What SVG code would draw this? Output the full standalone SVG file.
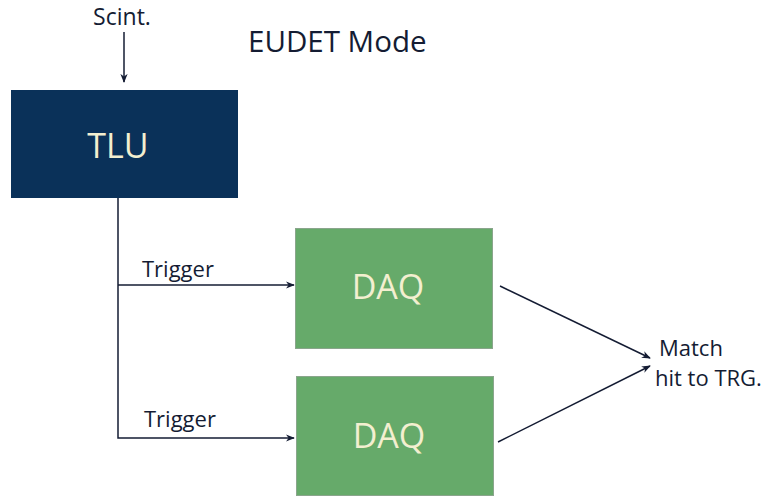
<svg xmlns="http://www.w3.org/2000/svg" width="765" height="497" viewBox="0 0 765 497">
  <style>
    text { font-family: "Open Sans", "Noto Sans", sans-serif; }
    .lbl { fill: #141c33; font-size: 22px; }
    .title { fill: #141c33; font-size: 29.5px; }
    .box-text { fill: #f3efd0; font-size: 34px; text-anchor: middle; }
    .wire { fill: none; stroke: #141c33; stroke-width: 1.5; }
    .daq { fill: #66aa6a; stroke: #8aa58c; stroke-width: 1; }
  </style>
  <defs>
    <marker id="arrow" viewBox="0 0 10 10" refX="9" refY="5" markerWidth="9" markerHeight="9" markerUnits="userSpaceOnUse" orient="auto">
      <path d="M0,1 L10,5 L0,9 L3,5 Z" fill="#141c33"/>
    </marker>
  </defs>
  <rect width="765" height="497" fill="#ffffff"/>

  <text class="title" x="248" y="52">EUDET Mode</text>

  <g id="tlu">
    <rect x="11" y="90" width="227" height="108" fill="#0a3159"/>
    <text class="box-text" x="118" y="158">TLU</text>
  </g>

  <g id="daq1">
    <rect class="daq" x="295.5" y="228.5" width="197" height="120"/>
    <text class="box-text" x="388" y="299">DAQ</text>
  </g>

  <g id="daq2">
    <rect class="daq" x="296.5" y="376.5" width="197" height="119"/>
    <text class="box-text" x="389" y="448">DAQ</text>
  </g>

  <g id="scint">
    <text class="lbl" x="122" y="25" text-anchor="middle" style="font-size:23px">Scint.</text>
  </g>

  <g id="match">
    <text class="lbl" x="659" y="356">Match</text>
    <text class="lbl" x="655" y="386">hit to TRG.</text>
  </g>

  <g id="connectors">
    <line class="wire" x1="124" y1="32" x2="124" y2="82" marker-end="url(#arrow)"/>
    <polyline class="wire" points="118,198 118,438 294,438" marker-end="url(#arrow)"/>
    <polyline class="wire" points="118,285 294,285" marker-end="url(#arrow)"/>
    <text class="lbl" x="142" y="277">Trigger</text>
    <text class="lbl" x="144" y="427">Trigger</text>
    <line class="wire" x1="500" y1="286" x2="650" y2="358" marker-end="url(#arrow)"/>
    <line class="wire" x1="498" y1="442" x2="650" y2="366" marker-end="url(#arrow)"/>
  </g>
</svg>
